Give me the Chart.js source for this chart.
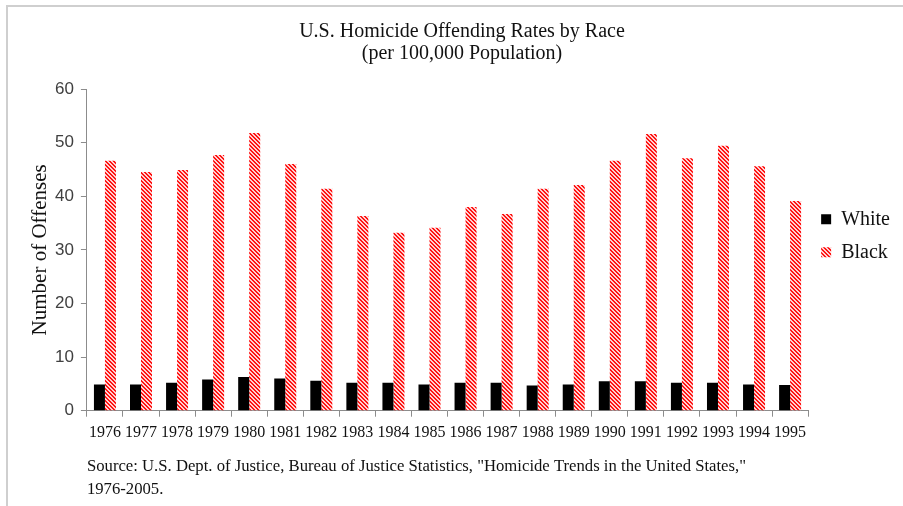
<!DOCTYPE html>
<html>
<head>
<meta charset="utf-8">
<script src="https://cdn.jsdelivr.net/npm/chart.js@4"></script>
<style>
  html, body { margin: 0; padding: 0; background: #ffffff; }
  #wrap { position: relative; width: 903px; height: 506px; overflow: hidden; }
  #frame { position: absolute; left: 6px; top: 5px; width: 920px; height: 520px;
           border-top: 2px solid #cfcfcf; border-left: 2px solid #cfcfcf; }
  canvas { position: absolute; left: 0; top: 0; }
</style>
</head>
<body>
<div id="wrap">
  <div id="frame"></div>
  <canvas id="homicideChart" width="903" height="506"></canvas>
</div>
<script>
// --- data ---
const years = ['1976', '1977', '1978', '1979', '1980', '1981', '1982', '1983', '1984', '1985',
               '1986', '1987', '1988', '1989', '1990', '1991', '1992', '1993', '1994', '1995'];
const whiteRates = [4.9, 4.9, 5.2, 5.8, 6.3, 6.0, 5.6, 5.2, 5.2, 4.9,
                    5.2, 5.2, 4.7, 4.9, 5.5, 5.5, 5.2, 5.2, 4.9, 4.8];
const blackRates = [46.6, 44.5, 44.9, 47.7, 51.8, 46.0, 41.4, 36.3, 33.2, 34.1,
                    38.0, 36.7, 41.4, 42.1, 46.6, 51.6, 47.1, 49.4, 45.6, 39.1];
const seriesNames = ['White', 'Black'];
const titleLines = ['U.S. Homicide Offending Rates by Race', '(per 100,000 Population)'];
const yAxisLabel = 'Number of Offenses';
const sourceLines = ['Source: U.S. Dept. of Justice, Bureau of Justice Statistics, "Homicide Trends in the United States,"',
                     '1976-2005.'];

const serif = "'Liberation Serif', 'Times New Roman', serif";
const axisGray = '#8c8c8c';

// red diagonal hatch used for the Black series
function makeHatch() {
    const tile = document.createElement('canvas');
    tile.width = 4;
    tile.height = 4;
    const t = tile.getContext('2d');
    t.fillStyle = '#ffd2d2';
    t.fillRect(0, 0, 4, 4);
    t.fillStyle = '#ff1414';
    for (let y = 0; y < 4; y++) {
        for (let x = 0; x < 4; x++) {
            if ((((x - y) % 4) + 4) % 4 < 2) t.fillRect(x, y, 1, 1);
        }
    }
    return document.getElementById('homicideChart').getContext('2d').createPattern(tile, 'repeat');
}

// nudge the legend up a little, it sits above the middle of the plot in the original
const legendNudge = {
    id: 'legendNudge',
    afterLayout(chart) {
        if (chart.legend) {
            chart.legend.top -= 14;
            chart.legend.bottom -= 14;
        }
    }
};

const ctx = document.getElementById('homicideChart').getContext('2d');

new Chart(ctx, {
    type: 'bar',
    data: {
        labels: years,
        datasets: [
            { label: seriesNames[0], data: whiteRates, backgroundColor: '#000000', borderWidth: 0 },
            { label: seriesNames[1], data: blackRates, backgroundColor: makeHatch(), borderWidth: 0 }
        ]
    },
    options: {
        responsive: false,
        animation: false,
        events: [],
        categoryPercentage: 0.61,
        barPercentage: 1.0,
        layout: { padding: { left: 24, right: 3, top: 0, bottom: 5 } },
        plugins: {
            title: {
                display: true,
                text: titleLines,
                color: '#111111',
                font: { family: serif, size: 20, weight: 'normal', lineHeight: 1.1 },
                padding: { top: 21, bottom: 24 }
            },
            legend: {
                position: 'right',
                fullSize: false,
                labels: {
                    color: '#111111',
                    font: { family: serif, size: 20 },
                    boxWidth: 10,
                    boxHeight: 10,
                    padding: 13
                }
            },
            tooltip: { enabled: false }
        },
        scales: {
            x: {
                grid: { display: true, drawOnChartArea: false, drawTicks: true, tickLength: 6, color: axisGray },
                border: { display: true, color: axisGray },
                ticks: {
                    color: '#111111',
                    font: { family: serif, size: 16 },
                    padding: 6,
                    maxRotation: 0,
                    autoSkip: false
                },
                title: {
                    display: true,
                    text: sourceLines,
                    align: 'start',
                    color: '#111111',
                    font: { family: serif, size: 16.7, lineHeight: 1.38 },
                    padding: { top: 7, bottom: 0 }
                }
            },
            y: {
                min: 0,
                max: 60,
                ticks: {
                    stepSize: 10,
                    color: '#404040',
                    font: { family: "'Liberation Sans', Arial, sans-serif", size: 17 },
                    padding: 7
                },
                grid: { display: true, drawOnChartArea: false, drawTicks: true, tickLength: 6, color: axisGray },
                border: { display: true, color: axisGray },
                title: {
                    display: true,
                    text: yAxisLabel,
                    color: '#111111',
                    font: { family: serif, size: 21, lineHeight: 1.0 },
                    padding: { top: 6, bottom: -3 }
                }
            }
        }
    },
    plugins: [legendNudge]
});
</script>
</body>
</html>
